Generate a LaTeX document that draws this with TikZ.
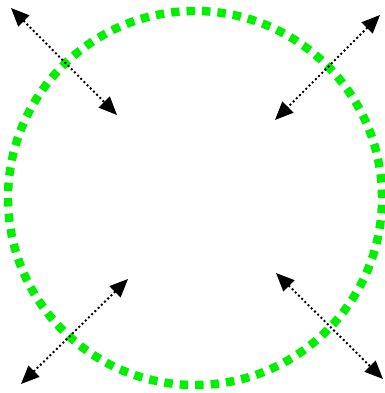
\documentclass[tikz,border=0pt]{standalone}
\usetikzlibrary{arrows.meta}
\definecolor{ringgreen}{RGB}{0,240,0}
\tikzset{
  ring/.style={ringgreen,line width=6pt,dash pattern=on 6pt off 5pt},
  push/.style={{Triangle[length=13pt,width=11pt]}-{Triangle[length=13pt,width=11pt]},line width=1.4pt,dash pattern=on 1.4pt off 1.8pt}
}
\begin{document}
\begin{tikzpicture}
\useasboundingbox (0,0) rectangle (9.625,9.825);

\draw[ring] (4.875,4.875) circle (4.675);

\coordinate (tlout) at (0.275,9.625);
\coordinate (tlin) at (2.925,6.95);
\coordinate (trout) at (9.5,9.45);
\coordinate (trin) at (6.875,6.825);
\coordinate (blin) at (3.2,2.85);
\coordinate (blout) at (0.525,0.225);
\coordinate (brin) at (6.9,3.0);
\coordinate (brout) at (9.575,0.35);

\draw[push] (tlout) -- (tlin);
\draw[push] (trout) -- (trin);
\draw[push] (blin) -- (blout);
\draw[push] (brin) -- (brout);
\end{tikzpicture}
\end{document}
